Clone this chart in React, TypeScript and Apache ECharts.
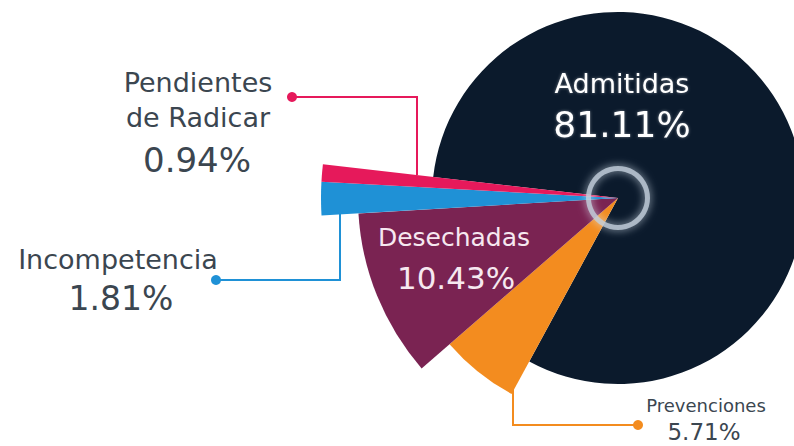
import React, { useEffect, useRef } from "react";
import * as echarts from "echarts";

// ---- data ----
const categories = ["Prevenciones", "Desechadas", "Incompetencia", "Pendientes de Radicar", "Admitidas"];
const values = [5.71, 10.43, 1.81, 0.94, 81.11];

// ---- styles ----
const colors = ["#f38c1f", "#7a2352", "#1f91d6", "#e6195b", "#0b1a2c"];
const radii = [223, 260, 297, 297, 186];
const CENTER = [618, 198];
const START = 241.5;
const TEXT = "#3b4650";
const FONT = '"DejaVu Sans", sans-serif';

const pct = (v: number) => `${v.toFixed(2)}%`;
const disp = (n: string) => n.replace(" de ", "\nde ");

function txt(x: number, y: number, text: string, size: number, fill: string, lineHeight?: number, extra: any = {}) {
  return {
    type: "text",
    x,
    y,
    z: 10,
    silent: true,
    style: {
      text,
      fill,
      fontSize: size,
      fontFamily: FONT,
      align: "center",
      verticalAlign: "middle",
      lineHeight: lineHeight || size * 1.2,
      ...extra,
    },
  };
}

export default function App() {
  const ref = useRef<HTMLDivElement>(null);
  useEffect(() => {
    if (!ref.current) return;
    const chart = echarts.init(ref.current, null, { renderer: "svg" });
    const order = [4, 0, 1, 2, 3];
    const series: any[] = order.map((i) => ({
      type: "pie",
      name: categories[i],
      center: CENTER,
      radius: [0, radii[i]],
      startAngle: START,
      clockwise: true,
      silent: true,
      avoidLabelOverlap: false,
      label: { show: false },
      labelLine: { show: false },
      emphasis: { disabled: true },
      z: 2,
      data: categories.map((c, j) => ({
        name: c,
        value: values[j],
        itemStyle: { color: j === i ? colors[j] : "rgba(0,0,0,0)", borderWidth: 0 },
      })),
    }));
    series.push({
      type: "pie",
      center: CENTER,
      radius: [27, 32],
      silent: true,
      label: { show: false },
      labelLine: { show: false },
      z: 3,
      data: [
        {
          value: 1,
          itemStyle: {
            color: "rgba(195,208,220,0.8)",
            shadowBlur: 8,
            shadowColor: "rgba(220,232,244,0.9)",
          },
        },
      ],
    });

    const graphic: any[] = [
      // leader lines
      { type: "polyline", z: 0, silent: true, shape: { points: [[292, 97], [417, 97], [417, 175]] }, style: { stroke: colors[3], lineWidth: 2, fill: null } },
      { type: "circle", z: 0, silent: true, shape: { cx: 292, cy: 97, r: 5 }, style: { fill: colors[3] } },
      { type: "polyline", z: 0, silent: true, shape: { points: [[216, 280], [340, 280], [340, 212]] }, style: { stroke: colors[2], lineWidth: 2, fill: null } },
      { type: "circle", z: 0, silent: true, shape: { cx: 216, cy: 280, r: 5 }, style: { fill: colors[2] } },
      { type: "polyline", z: 0, silent: true, shape: { points: [[513, 370], [513, 425], [638, 425]] }, style: { stroke: colors[0], lineWidth: 2, fill: null } },
      { type: "circle", z: 0, silent: true, shape: { cx: 638, cy: 425, r: 5 }, style: { fill: colors[0] } },
      // labels
      txt(198, 100, disp(categories[3]), 27, TEXT, 35),
      txt(197, 160, pct(values[3]), 34, TEXT),
      txt(118, 259, categories[2], 27, TEXT),
      txt(121, 298, pct(values[2]), 33, TEXT),
      txt(622, 83, categories[4], 27, "#ffffff", undefined, { textShadowBlur: 3, textShadowColor: "rgba(255,255,255,0.4)" }),
      txt(622, 124, pct(values[4]), 36, "#ffffff", undefined, { textShadowBlur: 3, textShadowColor: "rgba(255,255,255,0.4)" }),
      txt(454, 237, categories[1], 25, "#f6e8f0"),
      txt(456, 278, pct(values[1]), 31, "#f6e8f0"),
      txt(706, 405, categories[0], 18, TEXT),
      txt(704, 432, pct(values[0]), 23, TEXT, 24),
    ];

    chart.setOption({
      animation: false,
      backgroundColor: "#ffffff",
      series,
      graphic,
    });
    return () => chart.dispose();
  }, []);
  return (
    <div
      ref={ref}
      style={{ position: "fixed", left: 0, top: 0, width: 794, height: 446 }}
    />
  );
}
